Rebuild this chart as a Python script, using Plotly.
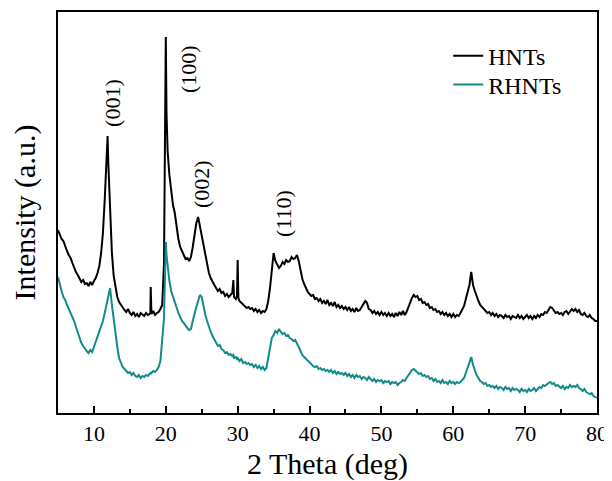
import plotly.graph_objects as go

# 2-theta sampling positions (deg)
two_theta = [
    5.0, 5.25, 5.5, 5.75,
    6.0, 6.25, 6.5, 6.75,
    7.0, 7.25, 7.5, 7.75,
    8.0, 8.25, 8.5, 8.75,
    9.0, 9.25, 9.5, 9.75,
    10.0, 10.25, 10.5, 10.75,
    11.0, 11.25, 11.5, 11.75, 11.9,
    12.0, 12.25, 12.5, 12.75,
    13.0, 13.25, 13.5, 13.75,
    14.0, 14.25, 14.5, 14.75,
    15.0, 15.25, 15.5, 15.75,
    16.0, 16.25, 16.5, 16.75,
    17.0, 17.25, 17.5, 17.75, 17.85, 17.9, 17.95,
    18.0, 18.25, 18.5, 18.75,
    19.0, 19.25, 19.5, 19.75, 19.9,
    20.0, 20.1, 20.25, 20.5, 20.75,
    21.0, 21.25, 21.5, 21.75,
    22.0, 22.25, 22.5, 22.75,
    23.0, 23.25, 23.5, 23.75,
    24.0, 24.25, 24.5, 24.75,
    25.0, 25.25, 25.5, 25.75,
    26.0, 26.25, 26.5, 26.75,
    27.0, 27.25, 27.5, 27.75,
    28.0, 28.25, 28.5, 28.75,
    29.0, 29.25, 29.4, 29.5, 29.75, 29.9,
    30.0, 30.1, 30.25, 30.5, 30.75,
    31.0, 31.25, 31.5, 31.75,
    32.0, 32.25, 32.5, 32.75,
    33.0, 33.25, 33.5, 33.75,
    34.0, 34.25, 34.5, 34.75,
    35.0, 35.25, 35.5, 35.75,
    36.0, 36.25, 36.5, 36.75,
    37.0, 37.25, 37.5, 37.75,
    38.0, 38.25, 38.5, 38.75,
    39.0, 39.25, 39.5, 39.75,
    40.0, 40.25, 40.5, 40.75,
    41.0, 41.25, 41.5, 41.75,
    42.0, 42.25, 42.5, 42.75,
    43.0, 43.25, 43.5, 43.75,
    44.0, 44.25, 44.5, 44.75,
    45.0, 45.25, 45.5, 45.75,
    46.0, 46.25, 46.5, 46.75,
    47.0, 47.25, 47.5, 47.75,
    48.0, 48.25, 48.5, 48.75,
    49.0, 49.25, 49.5, 49.75,
    50.0, 50.25, 50.5, 50.75,
    51.0, 51.25, 51.5, 51.75,
    52.0, 52.25, 52.5, 52.75,
    53.0, 53.25, 53.5, 53.75,
    54.0, 54.25, 54.5, 54.75,
    55.0, 55.25, 55.5, 55.75,
    56.0, 56.25, 56.5, 56.75,
    57.0, 57.25, 57.5, 57.75,
    58.0, 58.25, 58.5, 58.75,
    59.0, 59.25, 59.5, 59.75,
    60.0, 60.25, 60.5, 60.75,
    61.0, 61.25, 61.5, 61.75,
    62.0, 62.25, 62.5, 62.75,
    63.0, 63.25, 63.5, 63.75,
    64.0, 64.25, 64.5, 64.75,
    65.0, 65.25, 65.5, 65.75,
    66.0, 66.25, 66.5, 66.75,
    67.0, 67.25, 67.5, 67.75,
    68.0, 68.25, 68.5, 68.75,
    69.0, 69.25, 69.5, 69.75,
    70.0, 70.25, 70.5, 70.75,
    71.0, 71.25, 71.5, 71.75,
    72.0, 72.25, 72.5, 72.75,
    73.0, 73.25, 73.5, 73.75,
    74.0, 74.25, 74.5, 74.75,
    75.0, 75.25, 75.5, 75.75,
    76.0, 76.25, 76.5, 76.75,
    77.0, 77.25, 77.5, 77.75,
    78.0, 78.25, 78.5, 78.75,
    79.0, 79.25, 79.5, 79.75,
    80.0,
]

# HNTs intensity (a.u.)
hnts = [
    183, 178, 174, 172,
    166, 162, 158, 155,
    150, 145, 141, 138,
    135, 131, 133, 129,
    130, 127, 131, 128,
    132, 135, 140, 147,
    160, 180, 213, 258, 277,
    250, 195, 160, 137,
    124, 116, 111, 108,
    105, 103, 101, 104,
    100, 98, 101, 97,
    99, 96, 100, 98,
    97, 100, 98, 99, 100, 126, 101,
    99, 102, 98, 100,
    101, 104, 108, 150, 290,
    376, 300, 262, 238, 224,
    208, 200, 186, 174,
    166, 161, 158, 154,
    155, 152, 156, 166,
    178, 190, 196, 186,
    179, 168, 157, 148,
    140, 135, 131, 128,
    125, 122, 124, 120,
    121, 117, 119, 116,
    118, 120, 133, 116, 114, 117,
    153, 115, 112, 110, 108,
    107, 105, 106, 104,
    105, 102, 104, 101,
    103, 100, 102, 101,
    104, 112, 125, 142,
    160, 152, 148, 145,
    147, 151, 149, 153,
    151, 152, 156, 154,
    155, 158, 152, 142,
    134, 129, 125, 121,
    119, 117, 118, 114,
    115, 112, 114, 110,
    112, 109, 113, 108,
    110, 107, 111, 106,
    108, 105, 107, 104,
    106, 103, 106, 102,
    104, 101, 105, 102,
    103, 106, 108, 112,
    110, 104, 103, 100,
    102, 99, 101, 98,
    101, 98, 100, 97,
    100, 97, 99, 96,
    100, 97, 101, 98,
    102, 98, 101, 106,
    110, 115, 118, 116,
    117, 113, 114, 110,
    111, 108, 109, 105,
    106, 103, 104, 101,
    102, 99, 101, 98,
    100, 97, 99, 96,
    99, 96, 98, 97,
    100, 103, 107, 114,
    120, 128, 141, 128,
    122, 116, 112, 108,
    106, 104, 102, 100,
    101, 98, 100, 97,
    99, 96, 98, 97,
    95, 98, 96, 97,
    94, 97, 96, 95,
    98, 95, 97, 94,
    96, 98, 95, 97,
    94, 97, 95, 98,
    96, 99, 98, 101,
    100, 103, 106, 105,
    103, 100, 101, 99,
    100, 98, 101, 102,
    99, 102, 104, 102,
    104, 101, 103, 99,
    98, 100, 97, 96,
    98, 95, 94, 92,
    92,
]

# RHNTs intensity (a.u.)
rhnts = [
    136, 128, 122, 116,
    113, 108, 104, 100,
    95, 92, 86, 80,
    76, 70, 67, 64,
    62, 60, 63, 61,
    66, 70, 75, 80,
    86, 92, 100, 108, 114,
    118, 125, 108, 92,
    80, 66, 55, 50,
    46, 44, 42, 40,
    41, 38, 40, 37,
    36, 38, 35, 37,
    36, 38, 37, 39, 40, 39, 41,
    40, 42, 41, 43,
    46, 52, 70, 95, 140,
    171, 158, 145, 132, 122,
    116, 110, 104, 100,
    96, 92, 90, 87,
    85, 83, 84, 92,
    100, 106, 112, 118,
    116, 106, 98, 92,
    86, 81, 77, 74,
    70, 67, 68, 64,
    63, 60, 61, 58,
    59, 57, 58, 55, 56, 54,
    55, 53, 52, 54, 50,
    51, 49, 50, 48,
    49, 46, 48, 45,
    47, 44, 46, 43,
    45, 55, 68, 75,
    78, 82, 80, 84,
    81, 79, 80, 77,
    78, 75, 74, 72,
    73, 70, 66, 62,
    58, 56, 54, 52,
    50, 49, 47, 46,
    47, 44, 45, 43,
    44, 42, 43, 41,
    43, 40, 42, 39,
    41, 39, 40, 38,
    40, 37, 39, 36,
    38, 35, 38, 36,
    37, 34, 36, 35,
    33, 36, 34, 32,
    34, 31, 33, 32,
    33, 30, 32, 31,
    32, 29, 31, 30,
    31, 28, 30, 31,
    33, 32, 35, 38,
    40, 43, 44, 42,
    41, 39, 40, 37,
    38, 36, 37, 34,
    35, 32, 34, 31,
    32, 30, 33, 30,
    31, 29, 32, 30,
    31, 29, 31, 30,
    31, 33, 35, 40,
    46, 52, 56, 48,
    42, 38, 35, 32,
    31, 29, 30, 27,
    28, 26, 27, 25,
    27, 24, 26, 25,
    23, 26, 24, 25,
    22, 25, 23, 24,
    23, 21, 24, 22,
    23, 21, 24, 22,
    23, 25, 22, 24,
    26, 25, 28, 27,
    29, 30, 31, 29,
    30, 27, 28, 26,
    25, 27, 24, 26,
    25, 28, 26, 27,
    26, 28, 25, 24,
    22, 24, 21, 20,
    19, 20, 17, 16,
    15,
]

assert len(two_theta) == len(hnts) == len(rhnts)

# peak labels
peak_labels = ["(001)", "(100)", "(002)", "(110)"]
peak_label_x = [12.5, 23.1, 24.9, 36.3]
peak_label_y = [310, 344, 229, 200]

FONT = "Liberation Serif, Times New Roman, serif"

fig = go.Figure()
fig.add_trace(go.Scatter(x=two_theta, y=hnts, mode="lines", name="HNTs",
                         legend="legend",
                         line=dict(color="#000000", width=2)))
fig.add_trace(go.Scatter(x=two_theta, y=rhnts, mode="lines", name="RHNTs",
                         legend="legend2",
                         line=dict(color="#148a8a", width=2)))

for t, lx, ly in zip(peak_labels, peak_label_x, peak_label_y):
    fig.add_annotation(x=lx, y=ly, text=t, showarrow=False, textangle=-90,
                       font=dict(family=FONT, size=22, color="black"),
                       xanchor="center", yanchor="middle")

legend_style = dict(xanchor="left", yanchor="middle",
                    bgcolor="rgba(0,0,0,0)", font=dict(family=FONT, size=24, color="black"))

# the page body adds an 8 px offset, so the figure is 8 px smaller than the window
fig.update_layout(
    width=604, height=473,
    margin=dict(l=50, r=15, t=4, b=68),
    paper_bgcolor="white", plot_bgcolor="white",
    font=dict(family=FONT, color="black"),
    showlegend=True,
    legend=dict(x=0.724, y=0.89, **legend_style),
    legend2=dict(x=0.724, y=0.818, **legend_style),
    xaxis=dict(
        range=[5, 80], tick0=10, dtick=10, ticks="inside", ticklen=7,
        tickwidth=1.5, tickcolor="black",
        minor=dict(dtick=5, tick0=5, ticks="inside", ticklen=4, tickwidth=1.5, tickcolor="black"),
        showline=True, linecolor="black", linewidth=2, mirror=True,
        showgrid=False, zeroline=False, automargin=False,
        tickfont=dict(family=FONT, size=22),
        title=dict(text="2 Theta (deg)", font=dict(family=FONT, size=30), standoff=11),
    ),
    yaxis=dict(
        range=[0, 401], showticklabels=False, ticks="",
        showline=True, linecolor="black", linewidth=2, mirror=True,
        showgrid=False, zeroline=False, automargin=False,
        title=dict(text="Intensity (a.u.)", font=dict(family=FONT, size=30), standoff=14),
    ),
)

fig.write_html("out.html")
